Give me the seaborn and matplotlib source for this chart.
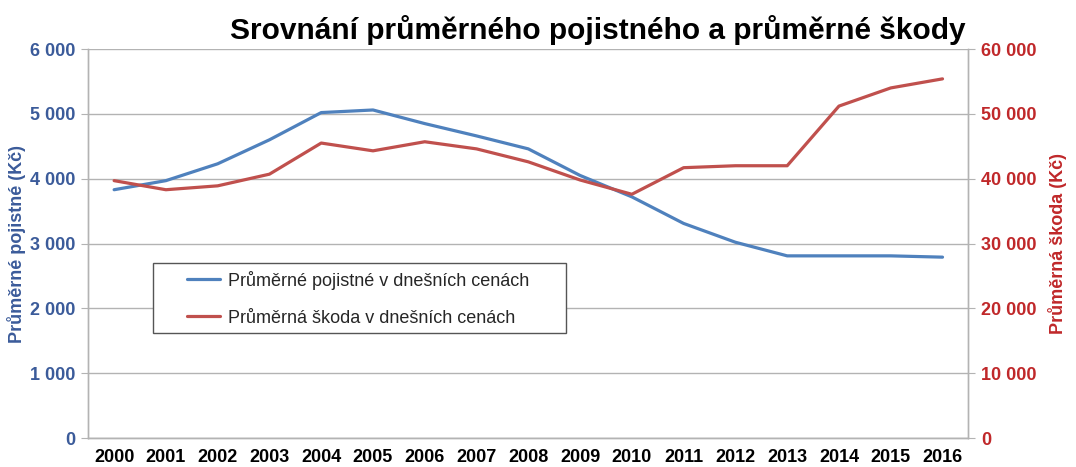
import pandas as pd
import seaborn as sns
import matplotlib.pyplot as plt
from matplotlib.patches import Rectangle
import numpy as np

years = [str(y) for y in range(2000, 2017)]
pojistne = [3830, 3970, 4230, 4600, 5020, 5060, 4850, 4660, 4460, 4050,
            3720, 3310, 3020, 2810, 2810, 2810, 2790]
skoda = [39700, 38300, 38900, 40700, 45500, 44300, 45700, 44600, 42600, 39800,
         37600, 41700, 42000, 42000, 51200, 54000, 55400]

blue = '#4f81bd'
red = '#c0504d'
blue_txt = '#3b5b9a'
red_txt = '#c0282a'
grid_c = '#b3b3b3'

df = pd.DataFrame({'pos': np.arange(len(years)), 'rok': years,
                   'pojistne': pojistne, 'skoda': skoda})

sns.set_style('white')
plt.rcParams['font.family'] = ['Liberation Sans', 'DejaVu Sans']

fig, ax = plt.subplots(figsize=(10.76, 4.67), dpi=100)
fig.subplots_adjust(left=0.082, right=0.9, top=0.895, bottom=0.062)
ax2 = ax.twinx()

sns.lineplot(data=df, x='pos', y='pojistne', ax=ax, color=blue, linewidth=2.3,
             label='Průměrné pojistné v dnešních cenách', legend=False)
sns.lineplot(data=df, x='pos', y='skoda', ax=ax2, color=red, linewidth=2.3,
             label='Průměrná škoda v dnešních cenách', legend=False)

ax.set_xlim(-0.5, len(years) - 0.5)
ax.set_ylim(0, 6000)
ax2.set_ylim(0, 60000)
ax.set_yticks(range(0, 6001, 1000))
ax2.set_yticks(range(0, 60001, 10000))

def fmt(v):
    return f'{int(v):,}'.replace(',', ' ')

ax.set_yticklabels([fmt(v) for v in range(0, 6001, 1000)], color=blue_txt,
                   fontsize=13, fontweight='bold')
ax2.set_yticklabels([fmt(v) for v in range(0, 60001, 10000)], color=red_txt,
                    fontsize=13, fontweight='bold')

ax.set_xticks(df['pos'])
ax.set_xticklabels(years, fontsize=13, fontweight='bold', color='black')
ax.set_xticks(np.arange(-0.5, len(years)), minor=True)
ax.tick_params(axis='x', which='major', length=0, pad=8)
ax.tick_params(axis='x', which='minor', length=5, color=grid_c)
ax.tick_params(axis='y', length=5, color=grid_c, pad=4)
ax2.tick_params(axis='y', length=5, color=grid_c, pad=4)

ax.grid(axis='y', color=grid_c, linewidth=1)
ax.set_axisbelow(True)
for s in ['top']:
    ax.spines[s].set_visible(False)
    ax2.spines[s].set_visible(False)
for a in (ax, ax2):
    for s in ['left', 'right', 'bottom']:
        a.spines[s].set_color(grid_c)
        a.spines[s].set_linewidth(1)

ax.set_xlabel('')
ax.set_ylabel('Průměrné pojistné (Kč)', color=blue_txt, fontsize=13,
              fontweight='bold')
ax2.set_ylabel('Průměrná škoda (Kč)', color=red_txt, fontsize=13,
               fontweight='bold')
ax.yaxis.set_label_coords(-0.071, 0.5)
ax2.yaxis.set_label_coords(1.09, 0.5)

# legend frame drawn separately (wider side padding than legend allows)
ax2.add_patch(Rectangle((0.074, 0.27), 0.469, 0.18, transform=ax2.transAxes,
                        facecolor='white', edgecolor='#555555', linewidth=1,
                        zorder=4))
h1, l1 = ax.get_legend_handles_labels()
h2, l2 = ax2.get_legend_handles_labels()
leg = ax2.legend(h1 + h2, l1 + l2, loc='upper left',
                 bbox_to_anchor=(0.1125, 0.43), borderaxespad=0, fontsize=13,
                 frameon=False, handlelength=1.8, borderpad=0,
                 labelspacing=1.1, handletextpad=0.45)
leg.set_zorder(5)

fig.text(0.897, 0.935, 'Srovnání průměrného pojistného a průměrné škody',
         ha='right', va='center', fontsize=21.5, fontweight='bold',
         color='black')

fig.savefig('out.png', dpi=100)
